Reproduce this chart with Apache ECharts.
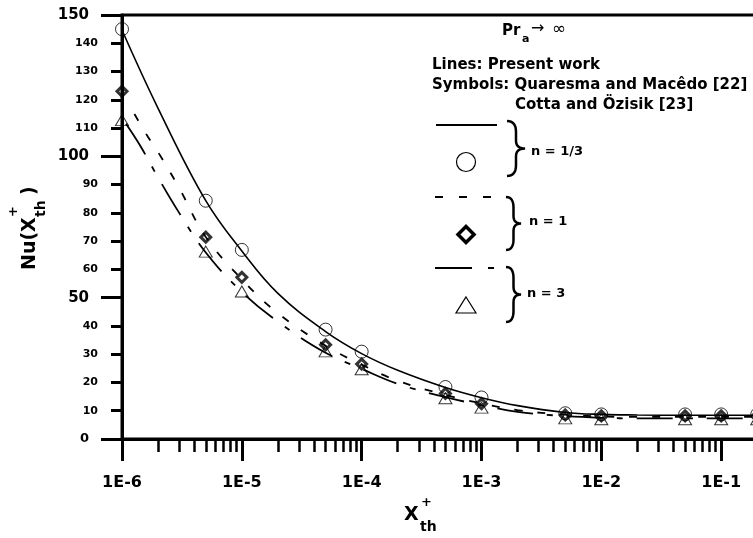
<!DOCTYPE html>
<html><head><meta charset="utf-8">
<script src="https://cdn.jsdelivr.net/npm/echarts@6/dist/echarts.min.js"></script>
<style>html,body{margin:0;padding:0;background:#fff}#c{width:753px;height:538px}</style>
</head><body><div id="c"></div>
<script>
// ---- data ----
const symX = [1e-6, 5e-6, 1e-5, 5e-5, 1e-4, 5e-4, 1e-3, 5e-3, 1e-2, 5e-2, 1e-1, 2e-1];
const circleY = [145.0, 84.3, 66.9, 38.7, 30.9, 18.4, 14.7, 9.1, 8.7, 8.7, 8.7, 8.7];
const diamondY = [123.0, 71.4, 57.2, 33.3, 26.5, 16.1, 12.5, 8.5, 8.2, 8.2, 8.2, 8.2];
const triangleY = [112.8, 66.3, 52.2, 31.0, 24.7, 14.4, 11.1, 7.3, 7.0, 7.0, 7.0, 7.0];

const lineX13 = [1e-6, 2e-6, 5e-6, 1e-5, 2e-5, 5e-5, 1e-4, 2e-4, 5e-4, 1e-3, 2e-3, 5e-3, 1e-2, 2e-2, 5e-2, 1e-1, 1];
const lineY13 = [144.7, 117, 84.3, 66.5, 51.5, 38, 30.2, 24.3, 18.2, 14.6, 11.8, 9.4, 8.7, 8.5, 8.4, 8.4, 8.4];
const lineX1 = [1.27e-6, 1.64e-6, 2e-6, 3e-6, 5e-6, 1e-5, 2e-5, 5e-5, 1e-4, 2e-4, 5e-4, 1e-3, 2e-3, 5e-3, 1e-2, 2e-2, 5e-2, 1e-1, 1];
const lineY1 = [115, 107, 101.5, 88.8, 71.5, 56.5, 44.5, 33, 26.3, 20.6, 15.6, 12.6, 10.2, 8.6, 8.0, 7.8, 7.8, 7.8, 7.8];
const lineX3 = [1.08e-6, 1.44e-6, 2e-6, 3e-6, 5e-6, 1e-5, 2e-5, 5e-5, 1e-4, 2e-4, 5e-4, 1e-3, 2e-3, 5e-3, 1e-2, 2e-2, 5e-2, 1e-1, 1];
const lineY3 = [111.5, 103.3, 92.5, 80, 66, 52, 41.5, 30.5, 24.8, 19.5, 14.8, 12, 9.6, 8.1, 7.5, 7.3, 7.3, 7.3, 7.3];

const xTickExp = [-6, -5, -4, -3, -2, -1, 0];
const legendLabels = ['n = 1/3', 'n = 1', 'n = 3'];

// ---- chart ----
const F = '"DejaVu Sans", sans-serif';
const pairs = (xs, ys) => xs.map((x, i) => [x, ys[i]]);
const minorTicks = [];
for (let d = -6; d < 0; d++) for (let k = 2; k <= 9; k++) minorTicks.push(d + Math.log10(k));

function qpts(p0, p1, p2, n) {
  const r = [];
  for (let i = 0; i <= n; i++) {
    const t = i / n;
    r.push([(1-t)*(1-t)*p0[0] + 2*(1-t)*t*p1[0] + t*t*p2[0], (1-t)*(1-t)*p0[1] + 2*(1-t)*t*p1[1] + t*t*p2[1]]);
  }
  return r;
}
function brace(x, top, bot, w) {
  const m = (top + bot) / 2, h = bot - top, xm = x + w * 0.5;
  return [].concat(
    qpts([x, top], [xm, top], [xm, top + h * 0.2], 8),
    qpts([xm, m - h * 0.14], [xm, m], [x + w, m], 6),
    qpts([x + w, m], [xm, m], [xm, m + h * 0.14], 6),
    qpts([xm, bot - h * 0.2], [xm, bot], [x, bot], 8)
  );
}
const txt = (x, y, text, size, weight, align) => ({
  type: 'text', x: x, y: y, silent: true,
  style: { text: text, font: (weight || 'bold') + ' ' + size + 'px ' + F, fill: '#000', align: align || 'left', verticalAlign: 'middle' }
});

const chart = echarts.init(document.getElementById('c'), null, { renderer: 'canvas' });
const blk = '#000';
const option = {
  animation: false,
  backgroundColor: '#fff',
  grid: { left: 122, top: 15, right: -88, bottom: 99, show: true, borderColor: blk, borderWidth: 3, backgroundColor: 'transparent', outerBoundsMode: 'none', containLabel: false },
  xAxis: [
    { type: 'log', logBase: 10, min: 1e-6, max: 1, position: 'bottom',
      axisLine: { show: true, onZero: false, lineStyle: { color: blk, width: 3 } }, axisTick: { show: false }, axisLabel: { show: false }, splitLine: { show: false } },
    { type: 'value', min: -6, max: 0, interval: 1, position: 'bottom',
      axisLine: { show: false, onZero: false }, axisTick: { show: true, inside: false, length: 22, lineStyle: { color: blk, width: 3 } },
      axisLabel: { show: true, margin: 36, fontSize: 16, fontWeight: 'bold', fontFamily: F, color: blk, showMinLabel: true, showMaxLabel: true,
        formatter: v => '1E' + v },
      splitLine: { show: false } },
    { type: 'value', min: -6, max: 0, position: 'bottom',
      axisLine: { show: false, onZero: false }, axisTick: { show: true, inside: false, length: 13, customValues: minorTicks, lineStyle: { color: blk, width: 2.5 } },
      axisLabel: { show: false }, splitLine: { show: false } }
  ],
  yAxis: [
    { type: 'value', min: 0, max: 150, interval: 10, position: 'left',
      axisLine: { show: true, onZero: false, lineStyle: { color: blk, width: 3 } },
      axisTick: { show: true, inside: false, length: 11, lineStyle: { color: blk, width: 3 } },
      axisLabel: { margin: 24, color: blk,
        formatter: v => v === 0 ? '{z|0}' : (v % 50 === 0 ? '{b|' + v + '}' : '{s|' + v + '}'),
        rich: {
          z: { fontSize: 13, fontWeight: 'bold', fontFamily: F, color: blk, padding: [0, 9, 0, 0] },
          b: { fontSize: 15, fontWeight: 'bold', fontFamily: F, color: blk, padding: [0, 9, 0, 0] },
          s: { fontSize: 11, fontWeight: 'bold', fontFamily: F, color: blk }
        } },
      splitLine: { show: false } },
    { type: 'value', min: 0, max: 150, interval: 50, position: 'left',
      axisLine: { show: false, onZero: false }, axisTick: { show: true, inside: false, length: 21, lineStyle: { color: blk, width: 3 } },
      axisLabel: { show: false }, splitLine: { show: false } }
  ],
  series: [
    { type: 'line', xAxisIndex: 0, yAxisIndex: 0, data: pairs(lineX13, lineY13), smooth: 0.4, showSymbol: false, symbol: 'none',
      lineStyle: { color: blk, width: 1.6, type: 'solid' } },
    { type: 'line', xAxisIndex: 0, yAxisIndex: 0, data: pairs(lineX1, lineY1), smooth: 0.4, showSymbol: false, symbol: 'none',
      lineStyle: { color: blk, width: 1.8, type: [8, 15] } },
    { type: 'line', xAxisIndex: 0, yAxisIndex: 0, data: pairs(lineX3, lineY3), smooth: 0.4, showSymbol: false, symbol: 'none',
      lineStyle: { color: blk, width: 1.8, type: [36, 14, 6, 14] } },
    { type: 'scatter', xAxisIndex: 0, yAxisIndex: 0, data: pairs(symX, circleY), symbol: 'circle', symbolSize: 13,
      itemStyle: { color: 'rgba(0,0,0,0)', borderColor: blk, borderWidth: 1 } },
    { type: 'scatter', xAxisIndex: 0, yAxisIndex: 0, data: pairs(symX, diamondY), symbol: 'diamond', symbolSize: 10,
      itemStyle: { color: 'rgba(0,0,0,0)', borderColor: blk, borderWidth: 3 } },
    { type: 'scatter', xAxisIndex: 0, yAxisIndex: 0, data: pairs(symX, triangleY), symbol: 'triangle', symbolSize: [13, 11],
      itemStyle: { color: 'rgba(0,0,0,0)', borderColor: blk, borderWidth: 1 } }
  ],
  graphic: [
    // header texts
    txt(502, 31, 'Pr', 15),
    txt(522, 39, 'a', 11),
    txt(531, 29, '\u2192', 16, 'normal'),
    txt(552, 30, '\u221E', 17, 'normal'),
    txt(432, 65, 'Lines: Present work', 15),
    txt(432, 85, 'Symbols: Quaresma and Mac\u00EAdo [22]', 15),
    txt(515, 105, 'Cotta and \u00D6zisik [23]', 15),
    // legend samples
    { type: 'line', silent: true, shape: { x1: 436, y1: 125, x2: 497, y2: 125 }, style: { stroke: blk, lineWidth: 2 } },
    { type: 'circle', silent: true, shape: { cx: 466, cy: 162, r: 9.5 }, style: { fill: 'none', stroke: blk, lineWidth: 1.2 } },
    { type: 'line', silent: true, shape: { x1: 435, y1: 197, x2: 492, y2: 197 }, style: { stroke: blk, lineWidth: 2, lineDash: [8, 16] } },
    { type: 'polygon', silent: true, shape: { points: [[466, 226.5], [474, 234.5], [466, 242.5], [458, 234.5]] }, style: { fill: 'none', stroke: blk, lineWidth: 3.5 } },
    { type: 'line', silent: true, shape: { x1: 435, y1: 268, x2: 494, y2: 268 }, style: { stroke: blk, lineWidth: 2, lineDash: [37, 16, 6, 100] } },
    { type: 'polygon', silent: true, shape: { points: [[466, 297], [476, 313], [456, 313]] }, style: { fill: 'none', stroke: blk, lineWidth: 1.2 } },
    // braces
    { type: 'polyline', silent: true, shape: { points: brace(507, 121, 176, 18) }, style: { fill: 'none', stroke: blk, lineWidth: 2.5 } },
    { type: 'polyline', silent: true, shape: { points: brace(506, 197, 250, 15) }, style: { fill: 'none', stroke: blk, lineWidth: 2.5 } },
    { type: 'polyline', silent: true, shape: { points: brace(506, 267, 322, 15) }, style: { fill: 'none', stroke: blk, lineWidth: 2.5 } },
    txt(531, 152, legendLabels[0], 13),
    txt(529, 222, legendLabels[1], 13),
    txt(527, 294, legendLabels[2], 13),
    // x axis title
    txt(404, 515, 'X', 19),
    txt(421, 503, '+', 13),
    txt(420, 527, 'th', 14),
    // y axis title (rotated)
    { type: 'group', x: 30, y: 270, rotation: Math.PI / 2, silent: true,
      children: [
        txt(0, 0, 'Nu(X', 19),
        txt(53, -16, '+', 13),
        txt(53, 11, 'th', 14),
        txt(75, 0, ')', 19)
      ] }
  ]
};
chart.setOption(option);
</script>
</body></html>
